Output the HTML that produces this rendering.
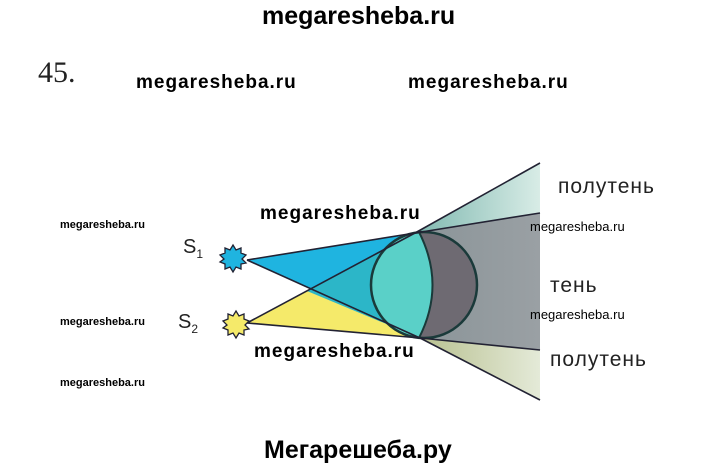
<!DOCTYPE html>
<html><head><meta charset="utf-8"><style>
body{margin:0;background:#fff;}
.w{position:absolute;font-family:"Liberation Sans",sans-serif;font-weight:bold;color:#000;}
.m{font-size:19px;letter-spacing:1px;}
.l{font-size:21px;font-weight:normal;color:#222;letter-spacing:1px;}
</style></head><body>
<div style="position:relative;width:720px;height:471px;overflow:hidden;">
<svg width="720" height="471" style="position:absolute;left:0;top:0">
<defs>
<linearGradient id="gt" x1="0" x2="1"><stop offset="0" stop-color="#7fb8b0"/><stop offset="1" stop-color="#d8ece6"/></linearGradient>
<linearGradient id="gb" x1="0" x2="1"><stop offset="0" stop-color="#b8c090"/><stop offset="1" stop-color="#e4ead8"/></linearGradient>
<linearGradient id="gs" x1="0" x2="1"><stop offset="0" stop-color="#8a9498"/><stop offset="1" stop-color="#9aa0a4"/></linearGradient>
<clipPath id="cc"><circle cx="424" cy="285" r="53"/></clipPath>
</defs>
<polygon points="415,233 540,163 540,213" fill="url(#gt)"/>
<polygon points="420,338 540,350 540,400" fill="url(#gb)"/>
<polygon points="415,233 540,213 540,350 420,338" fill="url(#gs)"/>
<polygon points="247,260 415,233 420,338" fill="#1fb4e0"/>
<polygon points="247,323 415,233 420,338" fill="#f5ea6a"/>
<polygon points="307,291 415,233 420,338" fill="#2cb6c8"/>
<circle cx="424" cy="285" r="53" fill="#5ad0c8"/>
<path clip-path="url(#cc)" d="M418,228 Q448,285 418,342 L490,342 L490,228 Z" fill="#6e6a72"/>
<path d="M419,232 Q446,285 419,338" fill="none" stroke="#1a3a3a" stroke-width="2"/>
<circle cx="424" cy="285" r="53" fill="none" stroke="#1a3a3a" stroke-width="2.5"/>
<g stroke="#223" stroke-width="1.6" fill="none">
<line x1="247" y1="260" x2="415" y2="233"/><line x1="247" y1="260" x2="420" y2="338"/>
<line x1="247" y1="323" x2="415" y2="233"/><line x1="247" y1="323" x2="420" y2="338"/>
<line x1="415" y1="233" x2="540" y2="163"/><line x1="415" y1="233" x2="540" y2="213"/>
<line x1="420" y1="338" x2="540" y2="350"/><line x1="420" y1="338" x2="540" y2="400"/>
</g>
<polygon points="233,245 236,250 241,248 241,253 246,255 242,259 246,263 241,264 241,269 236,267 233,272 230,267 225,269 225,264 220,262 224,259 220,255 225,253 225,248 230,250" fill="#1fb4e0" stroke="#223" stroke-width="1.3"/>
<polygon points="236,311 239,316 244,314 244,319 249,321 245,325 249,329 244,330 244,335 239,333 236,338 233,333 228,335 228,330 223,328 227,325 223,321 228,319 228,314 233,316" fill="#f5ea6a" stroke="#223" stroke-width="1.3"/>
</svg>
<div class="w" style="left:262px;top:2px;font-size:25px;">megaresheba.ru</div>
<div style="position:absolute;left:38px;top:56px;font-family:'Liberation Serif',serif;font-size:30px;color:#222">45.</div>
<div class="w m" style="left:136px;top:72px;">megaresheba.ru</div>
<div class="w m" style="left:408px;top:72px;">megaresheba.ru</div>
<div class="w m" style="left:260px;top:203px;">megaresheba.ru</div>
<div class="w m" style="left:254px;top:341px;">megaresheba.ru</div>
<div class="w" style="left:60px;top:219px;font-size:11px;">megaresheba.ru</div>
<div class="w" style="left:60px;top:316px;font-size:11px;">megaresheba.ru</div>
<div class="w" style="left:60px;top:377px;font-size:11px;">megaresheba.ru</div>
<div class="w" style="left:530px;top:219px;font-size:13px;font-weight:normal">megaresheba.ru</div>
<div class="w" style="left:530px;top:307px;font-size:13px;font-weight:normal">megaresheba.ru</div>
<div class="w l" style="left:558px;top:175px;">полутень</div>
<div class="w l" style="left:550px;top:274px;">тень</div>
<div class="w l" style="left:550px;top:348px;">полутень</div>
<div class="w" style="left:183px;top:236px;font-size:20px;font-weight:normal;color:#222">S<sub style="font-size:12px">1</sub></div>
<div class="w" style="left:178px;top:311px;font-size:20px;font-weight:normal;color:#222">S<sub style="font-size:12px">2</sub></div>
<div class="w" style="left:264px;top:436px;font-size:25px;">Мегарешеба.ру</div>
</div>
</body></html>
